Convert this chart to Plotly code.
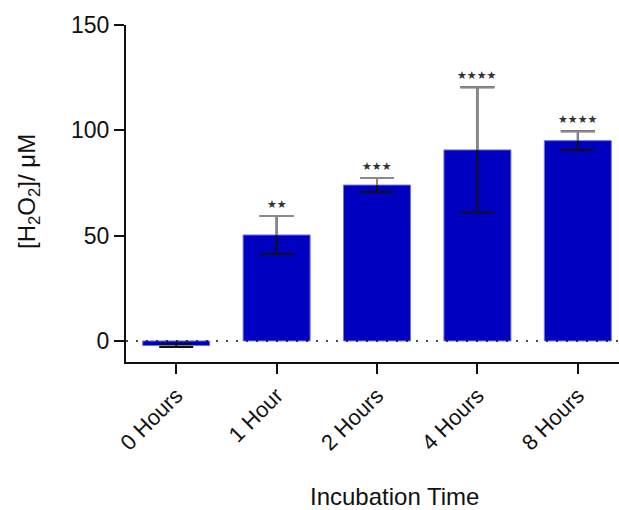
import plotly.graph_objects as go

categories = ["0 Hours", "1 Hour", "2 Hours", "4 Hours", "8 Hours"]
means = [-2.2, 50.3, 74.0, 90.7, 95.1]
errors = [0.7, 9.0, 3.3, 29.7, 4.5]
stars = ["", "★★", "★★★", "★★★★", "★★★★"]

FONT = "Liberation Sans, Arial, sans-serif"
CAP = 0.17

fig = go.Figure()
fig.add_trace(go.Bar(
    x=list(range(len(categories))), y=means, width=0.667,
    marker=dict(color="#0000C0", line=dict(color="#7070E8", width=1)),
    error_y=dict(type="data", array=errors, symmetric=True, color="#111111",
                 thickness=2, width=17),
    showlegend=False, hoverinfo="skip",
))

# gray upper part of the error bars (stem + cap) as in the reference
xs, ys = [], []
for i, (m, e) in enumerate(zip(means, errors)):
    if m <= 0:
        continue
    xs += [i, i, None, i - CAP, i + CAP, None]
    ys += [m, m + e, None, m + e, m + e, None]
fig.add_trace(go.Scatter(x=xs, y=ys, mode="lines",
                         line=dict(color="#8a8a8a", width=2),
                         showlegend=False, hoverinfo="skip"))

for i, (m, e, s) in enumerate(zip(means, errors, stars)):
    if s:
        fig.add_annotation(x=i, y=m + e, text=s, showarrow=False,
                           yshift=12, yanchor="middle",
                           font=dict(size=11, color="#333333", family="DejaVu Sans"))

fig.add_shape(type="line", xref="paper", x0=0, x1=1, yref="y", y0=0, y1=0,
              line=dict(color="#111111", width=1.5, dash="2px,8px"), layer="above")

fig.add_annotation(text="Incubation Time", xref="paper", yref="paper",
                   x=0.544, y=-0.40, showarrow=False, yanchor="middle",
                   font=dict(size=24, color="#111111", family=FONT))
fig.add_annotation(text="[H<sub>2</sub>O<sub>2</sub>]/ μM", xref="paper", yref="paper",
                   x=-0.199, y=0.507, showarrow=False, textangle=-90,
                   xanchor="center", yanchor="middle",
                   font=dict(size=24, color="#111111", family=FONT))

fig.update_layout(
    width=619, height=510,
    margin=dict(l=126, r=0, t=25, b=148),
    paper_bgcolor="white", plot_bgcolor="white",
    font=dict(family=FONT, size=23, color="#111111"),
    xaxis=dict(range=[-0.5, 4.41], tickmode="array",
               tickvals=list(range(len(categories))), ticktext=categories,
               tickangle=-45, showline=True, linecolor="#111111", linewidth=2,
               ticks="outside", ticklen=10, tickwidth=2, tickcolor="#111111",
               tickfont=dict(size=22),
               showgrid=False, zeroline=False),
    yaxis=dict(range=[-10, 150], tickvals=[0, 50, 100, 150],
               showline=True, linecolor="#111111", linewidth=2,
               ticks="outside", ticklen=10, tickwidth=2, tickcolor="#111111",
               tickfont=dict(size=23),
               showgrid=False, zeroline=False),
)

fig.write_html("out.html")
